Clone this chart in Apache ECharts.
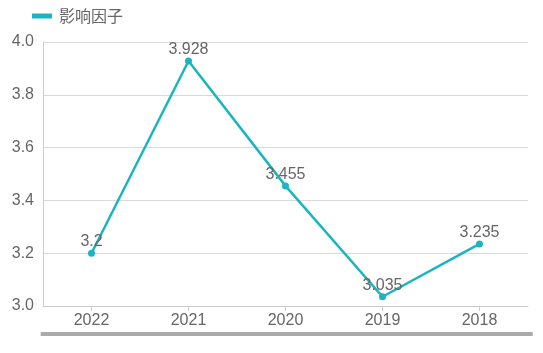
<!DOCTYPE html>
<html><head><meta charset="utf-8">
<script src="https://cdn.jsdelivr.net/npm/echarts@6/dist/echarts.min.js"></script>
<style>html,body{margin:0;padding:0;background:#fff}#c{width:543px;height:353px}</style>
</head><body><div id="c"></div>
<script>
const categories = ['2022','2021','2020','2019','2018'];
const values = [3.2, 3.928, 3.455, 3.035, 3.235];
const seriesName = '影响因子';
const color = '#1bb5c1';
const chart = echarts.init(document.getElementById('c'));
chart.setOption({
  animation: false,
  color: [color],
  legend: {
    left: 27, top: 3,
    itemWidth: 20, itemHeight: 5, itemGap: 10,
    icon: 'rect',
    textStyle: {fontSize: 16, color: '#666', fontFamily: 'Noto Sans CJK SC', padding: [0,0,0,2]},
    data: [seriesName]
  },
  grid: {left: 43, right: 15, top: 42, bottom: 47, containLabel: false},
  xAxis: {
    type: 'category', data: categories,
    axisLine: {lineStyle: {color: '#ccc'}},
    axisTick: {show: true, alignWithLabel: true, lineStyle: {color: '#ccc'}},
    axisLabel: {fontSize: 16, color: '#666', fontFamily: 'Arial, Liberation Sans', margin: 7}
  },
  yAxis: {
    type: 'value', min: 3.0, max: 4.0, interval: 0.2,
    axisLine: {show: true, lineStyle: {color: '#ccc'}},
    axisTick: {show: false},
    splitLine: {lineStyle: {color: '#d9d9d9'}},
    axisLabel: {fontSize: 16, color: '#666', fontFamily: 'Arial, Liberation Sans', margin: 9,
      formatter: v => v.toFixed(1)}
  },
  dataZoom: [{
    type: 'slider', xAxisIndex: 0, start: 0, end: 100,
    left: 40, right: 11, bottom: 17, height: 4,
    showDetail: false, showDataShadow: false, brushSelect: false,
    handleSize: 0, moveHandleSize: 0,
    borderColor: 'transparent', backgroundColor: 'transparent', borderRadius: 2,
    fillerColor: '#aaa',
    handleStyle: {opacity: 0}, moveHandleStyle: {opacity: 0}
  }],
  series: [{
    name: seriesName, type: 'line', data: values,
    symbol: 'circle', symbolSize: 7,
    lineStyle: {width: 2.5, color: color},
    itemStyle: {color: color},
    label: {show: true, position: 'top', fontSize: 16, color: '#666', fontFamily: 'Arial, Liberation Sans', distance: 0}
  }]
});
</script></body></html>
